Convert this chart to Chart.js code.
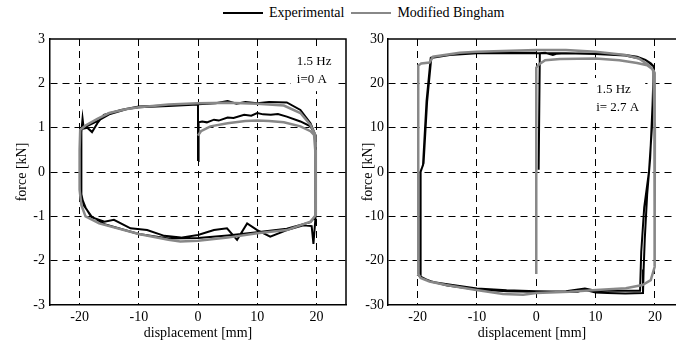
<!DOCTYPE html>
<html>
<head>
<meta charset="utf-8">
<script src="https://cdn.jsdelivr.net/npm/chart.js@4.4.0/dist/chart.umd.min.js"></script>
<style>
  body { margin: 0; background: #fff; width: 676px; height: 347px; position: relative; overflow: hidden; font-family: "Liberation Serif", serif; }
  canvas { position: absolute; top: 0; }
  #left { left: 0; }
  #right { left: 340px; }
  #legend { position: absolute; top: 5px; left: 223px; font-size: 14px; display: flex; align-items: center; white-space: nowrap; color: #000; }
  .sw { display: inline-block; width: 40px; height: 2px; margin-right: 6px; }
</style>
</head>
<body>
<div id="legend">
  <span class="sw" style="background:#000"></span><span style="margin-right:7px">Experimental</span>
  <span class="sw" style="background:#888"></span><span>Modified Bingham</span>
</div>
<canvas id="left" width="350" height="347"></canvas>
<canvas id="right" width="336" height="347"></canvas>
<script>
// i = 0 A : experimental loop (displacement mm, force kN)
const expX0 = [0, 0.1, 0.7, 1.5, 2.7, 3.5, 5, 6, 7.8, 9, 10, 11, 12.3, 13.5, 15, 17.3, 19, 19.8,
  19.9, 19.9, 19.8, 19.5, 19.2, 17.8, 15, 12.2, 10, 8.3, 6.6, 4.9, 2.7, 0, -2.9, -5.7, -8.6, -11.4, -14.2, -15.8, -18, -19, -19.6,
  -19.7, -19.7, -19.5, -19.3, -18.7, -17.9, -17, -15.9, -13, -10, -5, 0, 3, 5, 6.5, 8, 10, 12, 15, 17.3, 19, 19.8,
  19.9, 19.8, 19, 15, 10, 5, 0, -5, -10, -15.8, -18, -19.3, -19.7,
  -19.8, -19.8, -19, -17, -15, -12, -10, -5, 0, 0];
const expY0 = [0.25, 1.12, 1.14, 1.12, 1.18, 1.16, 1.23, 1.22, 1.29, 1.27, 1.33, 1.30, 1.29, 1.31, 1.25, 1.14, 1.03, 0.84,
  0.3, -0.5, -1.0, -1.62, -1.22, -1.20, -1.31, -1.46, -1.31, -1.16, -1.53, -1.27, -1.31, -1.42, -1.48, -1.44, -1.31, -1.27, -1.08, -1.12, -1.02, -0.8, -0.6,
  0, 0.9, 1.21, 0.98, 1.0, 0.9, 1.1, 1.29, 1.40, 1.48, 1.50, 1.53, 1.55, 1.60, 1.54, 1.58, 1.55, 1.58, 1.57, 1.40, 1.1, 0.84,
  0, -1.0, -1.13, -1.28, -1.36, -1.43, -1.49, -1.50, -1.40, -1.18, -1.0, -0.75, -0.5,
  0, 0.95, 1.02, 1.15, 1.30, 1.42, 1.46, 1.49, 1.52, 0.25];

// i = 0 A : modified Bingham model
const binX0 = [0, 0.5, 2.1, 5, 8, 10, 12, 14.5, 17.3, 19, 19.6, 19.8, 19.9, 19.9,
  19, 15, 10, 5, 0, -3, -5, -10, -16.7, -19, -19.7, -20, -20,
  -19.9, -19, -17, -15, -12, -10, -5, 0, 5, 10, 14.5, 17.3, 19, 19.8, 19.9, 19.8];
const binY0 = [0.82, 0.92, 1.03, 1.10, 1.15, 1.16, 1.15, 1.12, 1.03, 0.92, 0.84, 0.5, -0.3, -0.97,
  -1.12, -1.31, -1.38, -1.48, -1.55, -1.57, -1.53, -1.40, -1.16, -1.0, -0.75, -0.4, 0.5,
  0.95, 1.05, 1.2, 1.33, 1.42, 1.46, 1.52, 1.55, 1.56, 1.54, 1.50, 1.33, 1.06, 0.84, 0, -1.0];

// i = 2.7 A : experimental loop
const expX1 = [0.4, 0.6, 1.5, 2.8, 3.5, 5, 10, 15, 17, 18.4, 19.3, 19.8,
  19.6, 19.2, 18.7, 18.3, 18.1, 18.0,
  15, 12, 10, 8, 7, 5, 0, -5, -10, -15, -17.5, -19, -19.6,
  -19.6, -19.5, -19.1, -18.5, -17.8, -14.6, -10, 0, 5, 10, 15, 18.4, 19.8,
  19.5, 19.0, 18.2, 17.7, 17.5,
  15, 10, 8.2, 5, 0, -5, -10, -15, -18, -19.5,
  -19.5, -19.0, -18.4, -17.7, -14, -10, -5, 0];
const expY1 = [0.5, 26.8, 26.9, 26.4, 26.7, 26.8, 26.7, 26.4, 26.0, 25.3, 24.5, 23.8,
  15, 3, -5, -15, -22, -27.3,
  -27.4, -27.3, -27.2, -26.5, -27.0, -27.0, -26.9, -26.7, -26.3, -25.3, -24.8, -24.0, -23.5,
  -10, 0, 1.5, 16, 25.7, 26.4, 26.8, 26.8, 26.8, 26.6, 26.3, 25.3, 23.8,
  10, 0, -8, -18, -26.8,
  -26.8, -26.8, -26.3, -26.9, -27.0, -26.9, -26.5, -25.6, -24.6, -23.6,
  0, 2, 16, 25.8, 26.5, 26.8, 26.9, 26.9];

// i = 2.7 A : modified Bingham model
const binX1 = [0, 0, 0.5, 1.5, 4, 10, 14, 17, 18.7, 19.5, 19.9, 20, 20, 19.9,
  19.3, 17.9, 15.1, 10.1, 5.6, 0, -2.2, -5.6, -10.1, -15.2, -18, -19.5, -19.9,
  -19.9, -19.9, -19.4, -18, -17.4, -12.9, -10, 0, 5, 10, 15, 17.3, 19, 19.7, 20, 20, 19.9];
const binY1 = [-23, 23.5, 24.3, 25.2, 25.5, 25.6, 25.2, 24.6, 24.1, 23.3, 22.5, 10, -10, -21.4,
  -24.4, -25.5, -26.2, -26.6, -27.0, -27.3, -27.7, -27.5, -26.6, -25.5, -24.7, -23.9, -23.0,
  0, 24.0, 24.5, 24.7, 26.0, 26.9, 27.1, 27.5, 27.5, 27.1, 26.4, 25.6, 24.1, 23.0, 10, -10, -21.4];

const xTicks = [-20, -10, 0, 10, 20];

function pts(xs, ys) {
    return xs.map((x, i) => ({ x: x, y: ys[i] }));
}

const font = { family: '"Liberation Serif", serif', size: 14 };

// box lines on top / right, and the test-condition note on a white patch
const boxPlugin = {
    id: 'box',
    beforeDatasetsDraw(chart, args, opts) {
        const { ctx, scales } = chart;
        const px = scales.x.getPixelForValue(opts.noteAt[0]);
        const py = scales.y.getPixelForValue(opts.noteAt[1]);
        ctx.save();
        ctx.font = '13px "Liberation Serif", serif';
        const w = Math.max(...opts.note.map(t => ctx.measureText(t).width));
        ctx.fillStyle = '#fff';
        ctx.fillRect(px - 6, py - 12, w + 12, 18 + 24);
        ctx.fillStyle = '#000';
        ctx.textBaseline = 'middle';
        opts.note.forEach((line, i) => ctx.fillText(line, px, py + i * 18));
        ctx.restore();
    },
    afterDraw(chart, args, opts) {
        const { ctx, chartArea: a } = chart;
        ctx.save();
        ctx.strokeStyle = '#000';
        ctx.lineWidth = 1.5;
        ctx.beginPath();
        ctx.moveTo(a.left, a.top);
        ctx.lineTo(a.right, a.top);
        if (opts.right) ctx.lineTo(a.right, a.bottom);
        ctx.stroke();
        ctx.restore();
    }
};

function makeChart(id, exp, bin, o) {
    new Chart(document.getElementById(id), {
        type: 'scatter',
        data: {
            datasets: [
                { label: 'Experimental', data: exp, showLine: true, borderColor: '#000', borderWidth: 2, pointRadius: 0, order: 2 },
                { label: 'Modified Bingham', data: bin, showLine: true, borderColor: '#888', borderWidth: 2.5, pointRadius: 0, order: 1 }
            ]
        },
        options: {
            responsive: false,
            animation: false,
            layout: { padding: { top: 39, right: o.padRight, left: 0, bottom: 0 } },
            plugins: {
                legend: { display: false },
                tooltip: { enabled: false },
                box: { right: o.boxRight, note: o.note, noteAt: o.noteAt }
            },
            scales: {
                x: {
                    type: 'linear', min: -25, max: o.xMax,
                    afterBuildTicks: s => { s.ticks = xTicks.map(v => ({ value: v })); },
                    afterFit: s => { s.height = 42; },
                    ticks: { color: '#000', font: font, padding: 4, maxRotation: 0, autoSkip: false },
                    grid: { color: '#000', lineWidth: 1, drawTicks: false },
                    border: { color: '#000', width: 1.5, dash: [7, 5] },
                    title: { display: true, text: 'displacement [mm]', color: '#000', font: font, padding: { top: 0, bottom: 5 } }
                },
                y: {
                    min: -o.yLim, max: o.yLim,
                    afterFit: s => { s.width = o.yWidth; },
                    ticks: { stepSize: o.yStep, color: '#000', font: font, padding: o.yPad },
                    grid: {
                        color: c => (c.tick && Math.abs(c.tick.value) === o.yLim) ? 'rgba(0,0,0,0)' : '#000',
                        lineWidth: 1, drawTicks: false
                    },
                    border: { color: '#000', width: 1.5, dash: [7, 5] },
                    title: { display: true, text: 'force [kN]', color: '#000', font: font, padding: { top: o.titlePad, bottom: 0 } }
                }
            }
        },
        plugins: [boxPlugin]
    });
}

makeChart('left', pts(expX0, expY0), pts(binX0, binY0), {
    xMax: 25, padRight: 4, yLim: 3, yStep: 1, yWidth: 50, yPad: 5, titlePad: 14,
    boxRight: true, note: ['1.5 Hz', 'i=0 A'], noteAt: [16.7, 2.5]
});

makeChart('right', pts(expX1, expY1), pts(binX1, binY1), {
    xMax: 23.56, padRight: 0, yLim: 30, yStep: 10, yWidth: 48, yPad: 4, titlePad: 20,
    boxRight: false, note: ['1.5 Hz', 'i= 2.7 A'], noteAt: [10.1, 18.5]
});
</script>
</body>
</html>
